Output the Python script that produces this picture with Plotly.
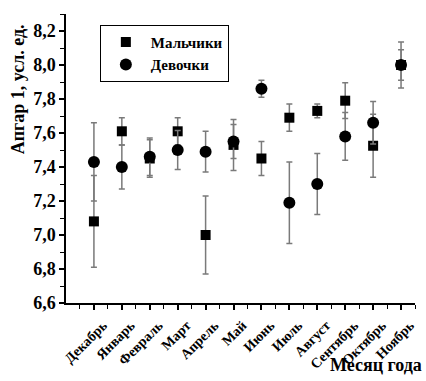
import plotly.graph_objects as go

months = ["Декабрь", "Январь", "Февраль", "Март", "Апрель", "Май",
          "Июнь", "Июль", "Август", "Сентябрь", "Октябрь", "Ноябрь"]
month_pos = list(range(1, len(months) + 1))

y_ticks = [6.6, 6.8, 7.0, 7.2, 7.4, 7.6, 7.8, 8.0, 8.2]

boys_mean = [7.08, 7.61, 7.45, 7.61, 7.00, 7.53, 7.45, 7.69, 7.73, 7.79, 7.525, 8.00]
boys_err = [0.27, 0.08, 0.11, 0.08, 0.23, 0.15, 0.10, 0.08, 0.04, 0.105, 0.185, 0.135]

girls_mean = [7.43, 7.40, 7.46, 7.50, 7.49, 7.55, 7.86, 7.19, 7.30, 7.58, 7.66, 8.00]
girls_err = [0.23, 0.13, 0.11, 0.115, 0.12, 0.10, 0.05, 0.24, 0.18, 0.14, 0.125, 0.09]

serif = "Liberation Serif"
err_style = dict(type="data", visible=True, color="#7a7a7a", thickness=1.5, width=3)

fig = go.Figure()
fig.add_trace(go.Scatter(
    x=month_pos, y=boys_mean, mode="markers", name="Мальчики",
    marker=dict(symbol="square", size=10, color="black"),
    error_y=dict(array=boys_err, **err_style),
))
fig.add_trace(go.Scatter(
    x=month_pos, y=girls_mean, mode="markers", name="Девочки",
    marker=dict(symbol="circle", size=12, color="black"),
    error_y=dict(array=girls_err, **err_style),
))

axis_common = dict(
    showline=True, linecolor="black", linewidth=1.5,
    ticks="outside", ticklen=5, tickwidth=1.5, tickcolor="black",
    showgrid=False, zeroline=False, mirror=False,
)

fig.update_xaxes(
    range=[0, 12.5], tickmode="array", tickvals=month_pos,
    ticktext=[f"<b>{m}</b>" for m in months],
    tickangle=-45, tickfont=dict(family=serif, size=14, color="black"),
    ticklabelshift=9, ticklabelstandoff=2,
    minor=dict(tickmode="array", tickvals=[i + 0.5 for i in range(-1, 13)],
               ticks="outside", ticklen=4, tickwidth=1.2, tickcolor="black"),
    **axis_common,
)
fig.update_yaxes(
    range=[6.6, 8.3], tickmode="array", tickvals=y_ticks,
    ticktext=[f"<b>{v:.1f}</b>".replace(".", ",") for v in y_ticks],
    tickfont=dict(family=serif, size=18, color="black"),
    minor=dict(dtick=0.1, tick0=6.6, ticks="outside", ticklen=4, tickwidth=1.2,
               tickcolor="black"),
    **axis_common,
)

fig.update_layout(
    width=426, height=381,
    margin=dict(l=66, r=9, t=14, b=72),
    paper_bgcolor="white", plot_bgcolor="white",
    font=dict(family=serif, color="black"),
    showlegend=True,
    legend=dict(
        x=0.097, y=0.963, xanchor="left", yanchor="top",
        bordercolor="black", borderwidth=1, bgcolor="white",
        font=dict(family=serif, size=15, color="black", weight="bold"),
        itemwidth=40, tracegroupgap=0,
    ),
    annotations=[
        dict(text="<b>Апгар 1, усл. ед.</b>", xref="paper", yref="paper",
             x=-0.137, y=0.74, textangle=-90, showarrow=False,
             xanchor="center", yanchor="middle",
             font=dict(family=serif, size=18, color="black")),
        dict(text="<b>Месяц года</b>", xref="paper", yref="paper",
             x=1.025, y=-0.215, showarrow=False, xanchor="right", yanchor="middle",
             font=dict(family=serif, size=18, color="black")),
    ],
)

fig.write_html("out.html")
